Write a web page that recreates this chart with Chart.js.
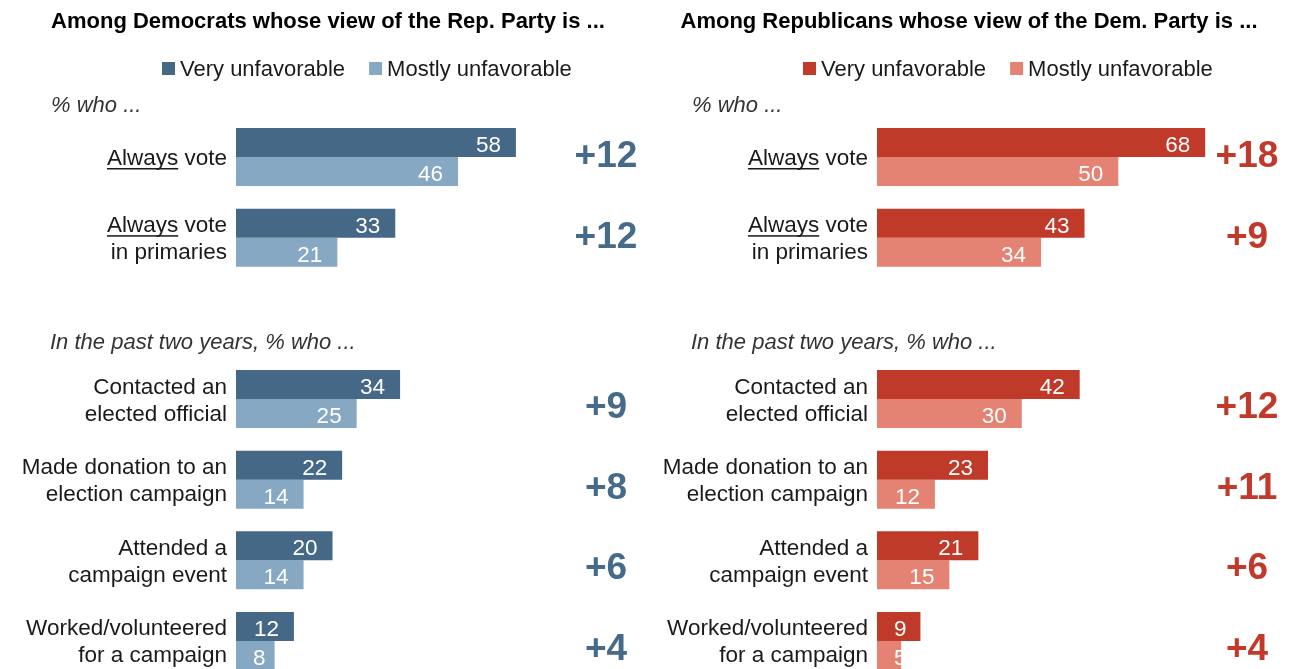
<!DOCTYPE html>
<html>
<head>
<meta charset="utf-8">
<script src="https://cdn.jsdelivr.net/npm/chart.js@4"></script>
<style>
  html, body { margin: 0; padding: 0; background: #fff; overflow: hidden; }
  #wrap { position: relative; width: 1291px; height: 669px; overflow: hidden; }
  canvas { position: absolute; top: 0; }
</style>
</head>
<body>
<div id="wrap">
  <canvas id="demChart" width="641" height="700" style="left:0"></canvas>
  <canvas id="repChart" width="650" height="700" style="left:641px"></canvas>
</div>
<script>
// categories (empty slot = gap between the two groups)
const categories = [
    ['Always vote'],
    ['Always vote', 'in primaries'],
    '',
    ['Contacted an', 'elected official'],
    ['Made donation to an', 'election campaign'],
    ['Attended a', 'campaign event'],
    ['Worked/volunteered', 'for a campaign']
];
const seriesNames = ['Very unfavorable', 'Mostly unfavorable'];

// Democrats, by view of the Republican Party
const demVery = [58, 33, null, 34, 22, 20, 12];
const demMostly = [46, 21, null, 25, 14, 14, 8];
// Republicans, by view of the Democratic Party
const repVery = [68, 43, null, 42, 23, 21, 9];
const repMostly = [50, 34, null, 30, 12, 15, 5];

const subheads = ['% who ...', 'In the past two years, % who ...'];
const underlineWord = 'Always';

const FONT = '"Liberation Sans", Arial, sans-serif';
const BAR_LEFT = 236;      // where bars start inside each canvas
const PX_PER_UNIT = 4.826;
const X_MAX = 80;

// draws titles, legend, row labels, value labels and the differences
const panelText = {
    id: 'panelText',
    afterDatasetsDraw(chart, args, opts) {
        const ctx = chart.ctx;
        const y = chart.scales.y;
        ctx.save();

        // title
        ctx.fillStyle = '#000';
        ctx.font = 'bold 22px ' + FONT;
        ctx.textAlign = 'center';
        ctx.textBaseline = 'alphabetic';
        ctx.fillText(opts.title, 328, 28);

        // legend
        ctx.font = '22px ' + FONT;
        ctx.textAlign = 'left';
        let lx = 162;
        chart.data.datasets.forEach(ds => {
            ctx.fillStyle = ds.backgroundColor;
            ctx.fillRect(lx, 62, 13, 13);
            ctx.fillStyle = '#1a1a1a';
            ctx.fillText(ds.label, lx + 18, 76);
            lx += 18 + ctx.measureText(ds.label).width + 24;
        });

        // sub heads
        ctx.font = 'italic 22px ' + FONT;
        ctx.fillStyle = '#333';
        ctx.fillText(subheads[0], 51, y.getPixelForValue(0) - 45);
        ctx.fillText(subheads[1], 50, y.getPixelForValue(3) - 50);

        // category labels
        ctx.font = '22.5px ' + FONT;
        ctx.fillStyle = '#1a1a1a';
        ctx.textAlign = 'right';
        chart.data.labels.forEach((lab, i) => {
            const lines = Array.isArray(lab) ? lab : (lab ? [lab] : []);
            const cy = y.getPixelForValue(i);
            lines.forEach((line, k) => {
                const by = cy + 8 + (k - (lines.length - 1) / 2) * 27;
                ctx.fillText(line, 227, by);
                if (line.startsWith(underlineWord)) {
                    const full = ctx.measureText(line).width;
                    const w = ctx.measureText(underlineWord).width;
                    ctx.fillRect(227 - full, by + 3, w, 1.5);
                }
            });
        });

        // values inside the bars
        ctx.font = '22.5px ' + FONT;
        chart.data.datasets.forEach((ds, di) => {
            chart.getDatasetMeta(di).data.forEach((bar, j) => {
                const v = ds.data[j];
                if (v === null) return;
                const p = bar.getProps(['x', 'y', 'base', 'height'], true);
                const txt = String(v);
                const w = ctx.measureText(txt).width;
                let right = p.x - 15;
                if (right - w < p.base + 17) right = p.base + 17 + w;
                ctx.save();
                ctx.beginPath();
                ctx.rect(p.base, p.y - p.height / 2, p.x - p.base, p.height);
                ctx.clip();
                ctx.fillStyle = '#fff';
                ctx.fillText(txt, right, p.y + 9.5);
                ctx.restore();
            });
        });

        // differences
        const a = chart.data.datasets[0].data;
        const b = chart.data.datasets[1].data;
        ctx.font = 'bold 37px ' + FONT;
        ctx.fillStyle = opts.diffColor;
        ctx.textAlign = 'center';
        a.forEach((v, i) => {
            if (v === null) return;
            const cy = y.getPixelForValue(i) + (i < 2 ? -3 : 6);
            ctx.fillText('+' + (v - b[i]), 606, cy + 13);
        });

        ctx.restore();
    }
};

function makePanel(id, title, very, mostly, colors) {
    const canvas = document.getElementById(id);
    const W = canvas.width;
    return new Chart(canvas, {
        type: 'bar',
        data: {
            labels: categories,
            datasets: [
                { label: seriesNames[0], data: very, backgroundColor: colors[0] },
                { label: seriesNames[1], data: mostly, backgroundColor: colors[1] }
            ]
        },
        options: {
            indexAxis: 'y',
            responsive: false,
            animation: false,
            layout: {
                padding: {
                    top: 116.67,
                    bottom: 700 - 681.33,
                    left: BAR_LEFT,
                    right: W - BAR_LEFT - X_MAX * PX_PER_UNIT
                }
            },
            datasets: {
                bar: { categoryPercentage: 0.72, barPercentage: 1.0, borderWidth: 0 }
            },
            scales: {
                x: { display: false, min: 0, max: X_MAX, grid: { display: false } },
                y: { display: false, grid: { display: false } }
            },
            plugins: {
                legend: { display: false },
                tooltip: { enabled: false },
                panelText: { title: title, diffColor: colors[2] }
            }
        },
        plugins: [panelText]
    });
}

makePanel('demChart', 'Among Democrats whose view of the Rep. Party is ...',
    demVery, demMostly, ['#456886', '#86a8c3', '#466a89']);
makePanel('repChart', 'Among Republicans whose view of the Dem. Party is ...',
    repVery, repMostly, ['#bf3a28', '#e48374', '#c0392b']);
</script>
</body>
</html>
